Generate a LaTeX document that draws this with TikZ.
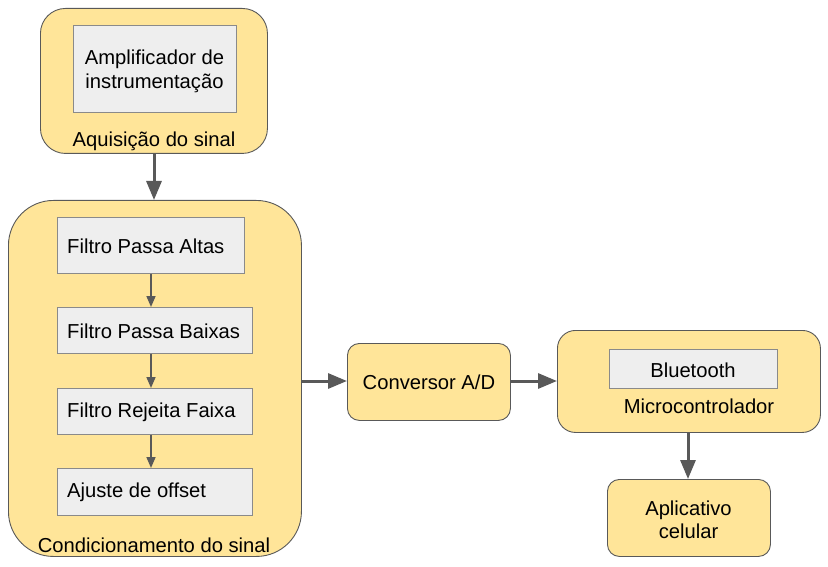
\documentclass[tikz,border=0pt]{standalone}
\usepackage{fontspec}
\setmainfont{Liberation Sans}
\usetikzlibrary{arrows.meta,positioning}
\definecolor{yel}{HTML}{FFE599}
\definecolor{gry}{HTML}{EEEEEE}
\definecolor{edge}{HTML}{595959}
\definecolor{gedge}{HTML}{8A8A8A}
\tikzset{
  grp/.style={draw=edge, fill=yel, line width=0.9pt, anchor=north west, inner sep=0pt},
  inbox/.style={draw=gedge, fill=gry, line width=0.9pt, anchor=north west, inner sep=0pt},
  lbl/.style={inner sep=0pt, align=center},
  llbl/.style={inner sep=0pt, anchor=west},
  bigarr/.style={draw=edge, line width=3pt, -{Triangle[length=19pt,width=15pt]}},
  smallarr/.style={draw=edge, line width=1.6pt, -{Triangle[length=11pt,width=9pt]}},
}
\begin{document}
\begin{tikzpicture}[x=1pt,y=-1pt,font=\fontsize{20.2}{23.5}\selectfont]
\useasboundingbox (0,0) rectangle (828,567);
% Aquisicao
\node[grp, rounded corners=25pt, minimum width=227pt, minimum height=145pt] (aq) at (40,8) {};
\node[inbox, minimum width=163pt, minimum height=87pt] (amp) at (73,25) {};
\node[lbl] (amptxt) at (154.5,71.5) {Amplificador de\\instrumentação};
\node[lbl] (aqlbl) at (154,141) {Aquisição do sinal};
% Condicionamento
\node[grp, rounded corners=45pt, minimum width=293pt, minimum height=356pt] (cond) at (8,200) {};
\node[inbox, minimum width=187pt, minimum height=56pt] (f1) at (57,217) {};
\node[llbl] (f1t) at (67,246) {Filtro Passa Altas};
\node[inbox, minimum width=195pt, minimum height=46pt] (f2) at (57,307) {};
\node[llbl] (f2t) at (67,331) {Filtro Passa Baixas};
\node[inbox, minimum width=195pt, minimum height=46pt] (f3) at (57,388) {};
\node[llbl] (f3t) at (67,412) {Filtro Rejeita Faixa};
\node[inbox, minimum width=195pt, minimum height=47pt] (f4) at (57,468) {};
\node[llbl] (f4t) at (67,492) {Ajuste de offset};
\node[lbl] (condlbl) at (154,545) {Condicionamento do sinal};
% Conversor
\node[grp, rounded corners=12pt, minimum width=163pt, minimum height=77pt, align=center] (ad) at (347,343) {Conversor A/D};
% Microcontrolador
\node[grp, rounded corners=18pt, minimum width=263pt, minimum height=102pt] (mc) at (557,330) {};
\node[inbox, minimum width=168pt, minimum height=39pt] (bt) at (609,349) {};
\node[lbl] (bttxt) at (693,370) {Bluetooth};
\node[lbl] (mclbl) at (699,406) {Microcontrolador};
% Aplicativo
\node[grp, rounded corners=12pt, minimum width=163pt, minimum height=77pt] (app) at (607,479) {};
\node[lbl] (apptxt) at (688.5,520) {Aplicativo\\celular};
% arrows
\draw[bigarr] (aq.south -| aqlbl) -- (cond.north -| aqlbl);
\draw[smallarr] (f1.south -| 151,0) -- (f2.north -| 151,0);
\draw[smallarr] (f2.south -| 151,0) -- (f3.north -| 151,0);
\draw[smallarr] (f3.south -| 151,0) -- (f4.north -| 151,0);
\draw[bigarr] (cond.east |- 0,381) -- (ad.west |- 0,381);
\draw[bigarr] (ad.east |- 0,381) -- (mc.west |- 0,381);
\draw[bigarr] (mc.south -| 688,0) -- (app.north -| 688,0);
\end{tikzpicture}
\end{document}
